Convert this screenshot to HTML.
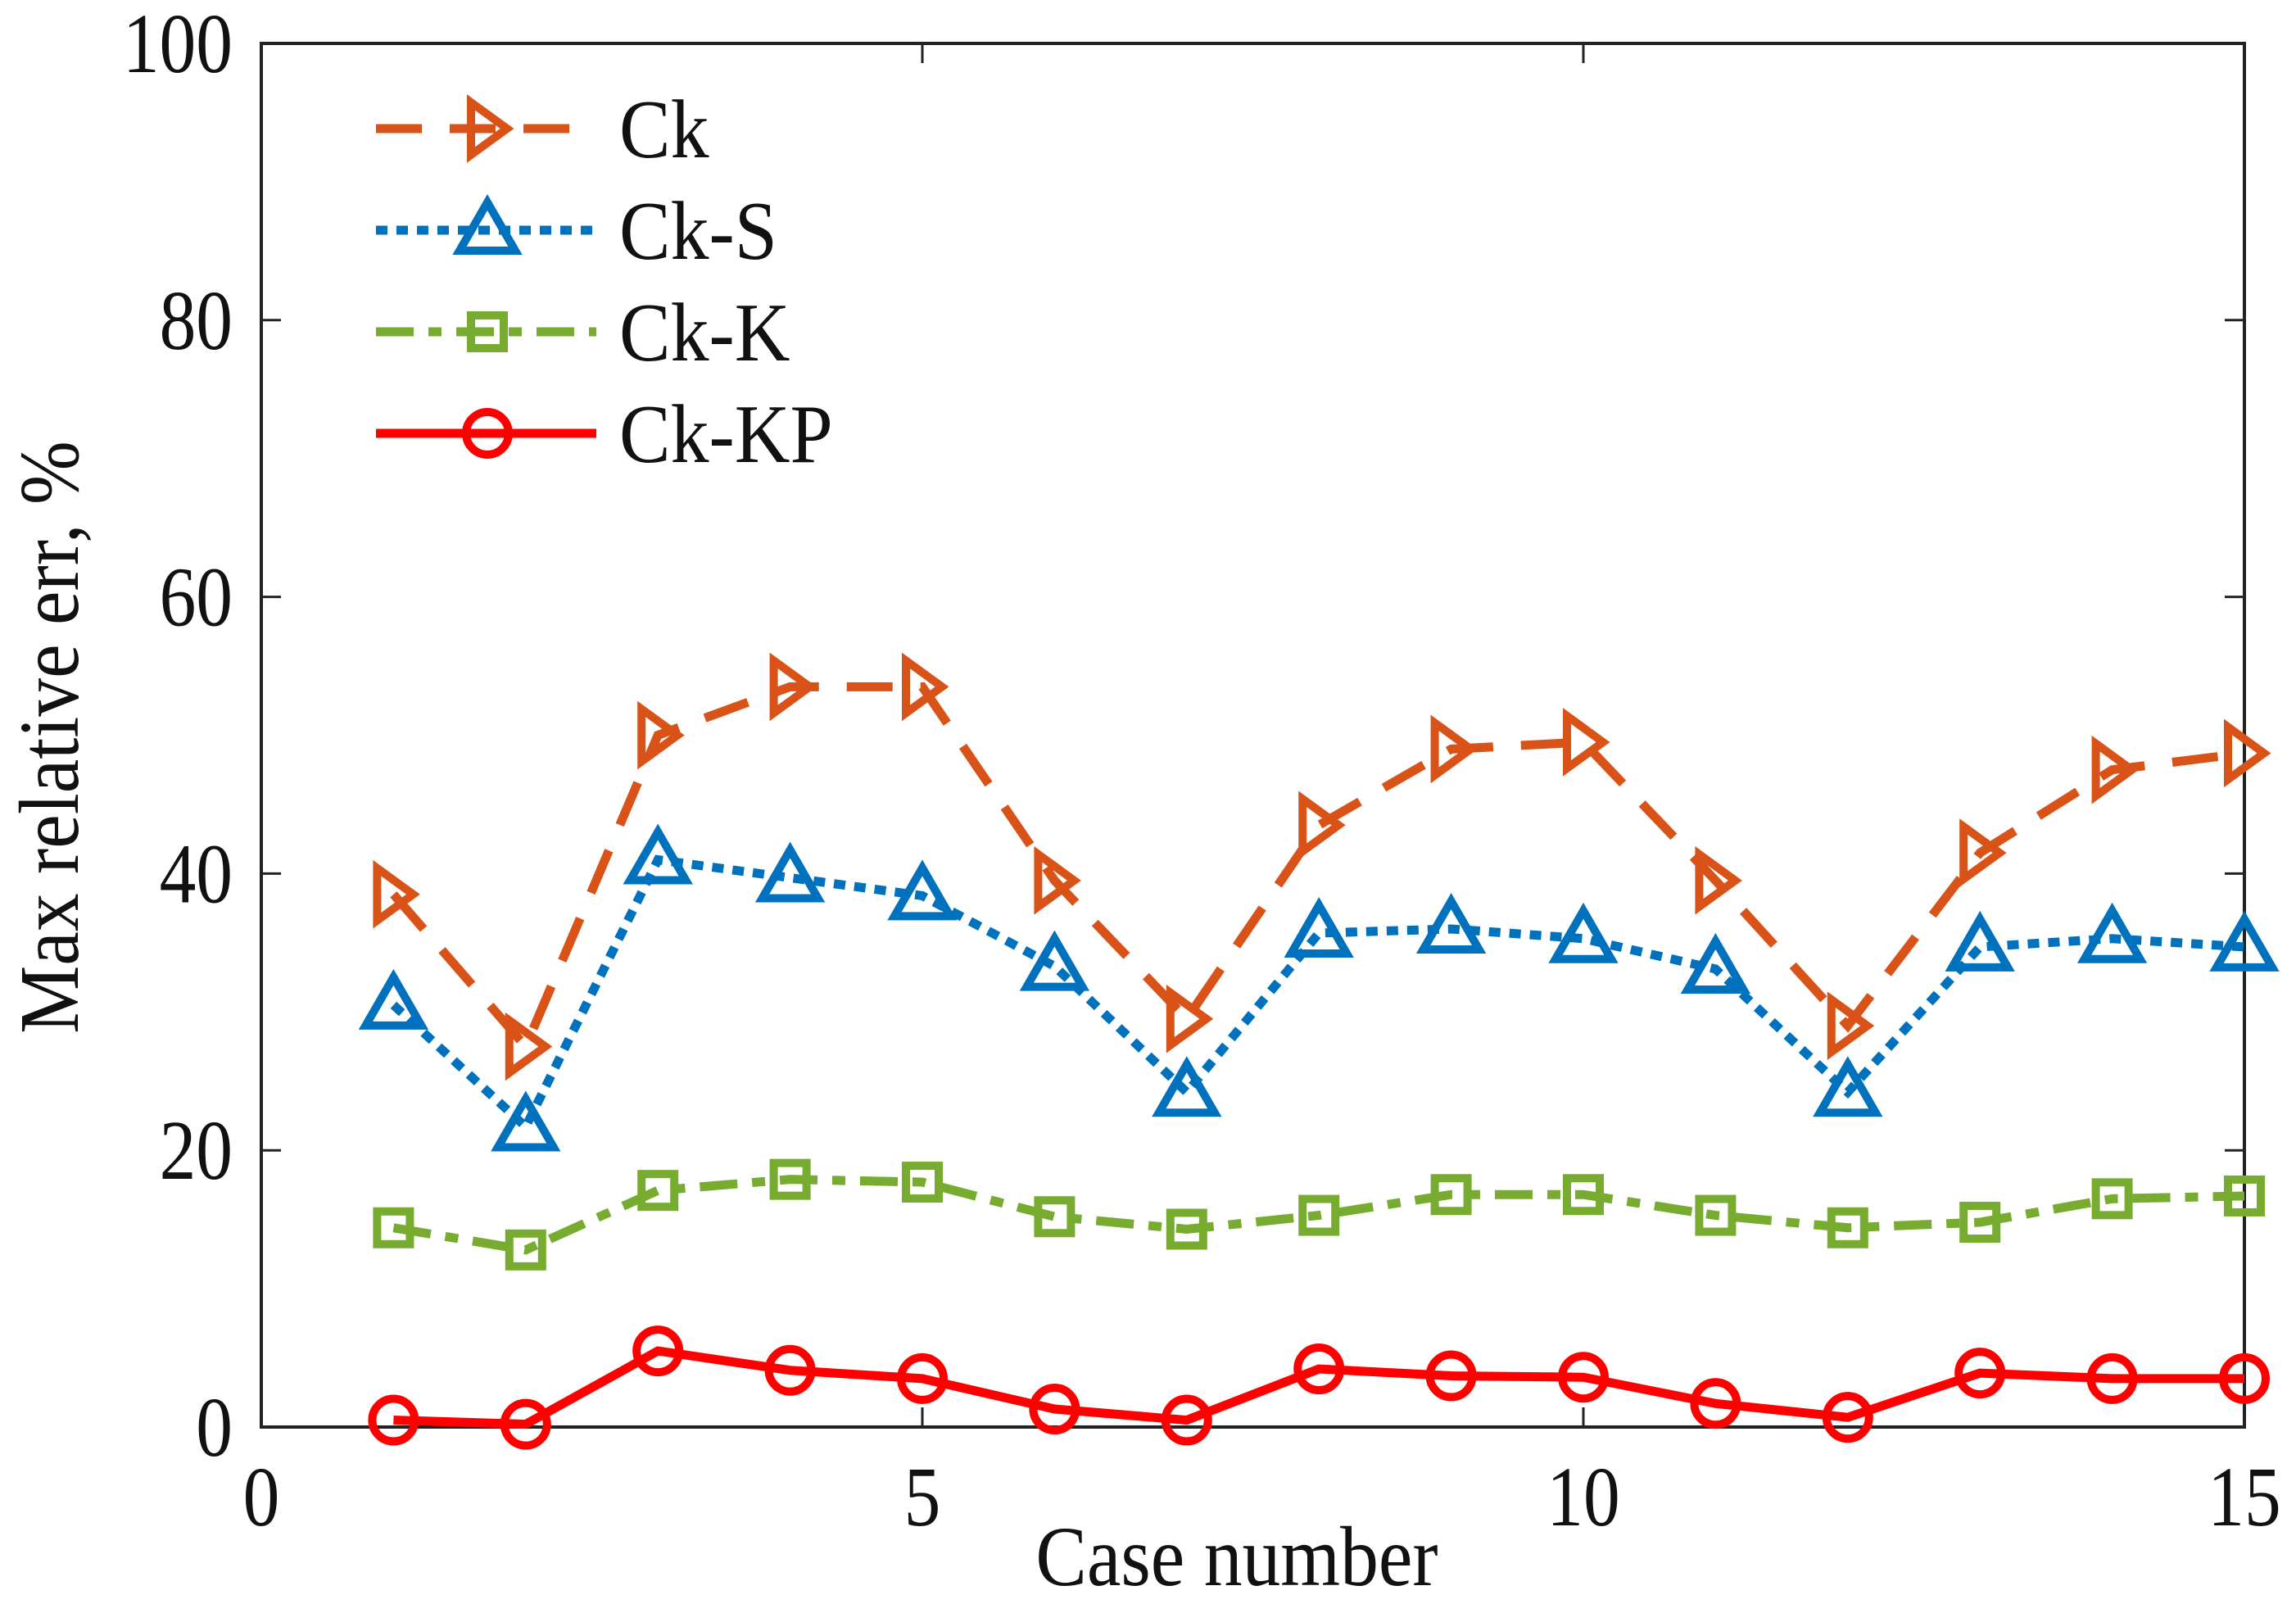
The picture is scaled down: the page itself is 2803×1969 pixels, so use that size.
<!DOCTYPE html>
<html><head><meta charset="utf-8"><style>
html,body{margin:0;padding:0;background:#fff;}
svg{display:block;}
text{font-family:"Liberation Serif","DejaVu Serif",serif;fill:#111;}
</style></head><body>
<svg id="chart" width="2803" height="1969" viewBox="0 0 2803 1969" xmlns="http://www.w3.org/2000/svg">
<g id="grid"></g>
<g id="series"></g>
<g id="legend"></g>
</svg>
<script>
const cases = [1,2,3,4,5,6,7,8,9,10,11,12,13,14,15];
const ck   = [38.5,27.5,50,53.5,53.5,39.5,29.5,43.5,49,49.5,39.5,29,41.5,47.5,48.7];
const ckS  = [30.5,21.7,41,39.7,38.4,33.3,24.2,35.7,36,35.3,33.1,24.2,34.7,35.3,34.7];
const ckK  = [14.4,12.8,17.1,17.9,17.7,15.2,14.3,15.3,16.8,16.8,15.3,14.4,14.8,16.5,16.7];
const ckKP = [0.5,0.2,5.5,4.1,3.5,1.3,0.5,4.2,3.7,3.6,1.7,0.7,3.9,3.5,3.5];
const xTicks = [0,5,10,15];
const yTicks = [0,20,40,60,80,100];
const seriesNames = ["Ck","Ck-S","Ck-K","Ck-KP"];

const L=319,R=2740,T=53,B=1742;
const sx=v=>L+(v-0)/(15-0)*(R-L);
const sy=v=>B-(v-0)/(100-0)*(B-T);
const NS="http://www.w3.org/2000/svg";
function mk(tag,attrs,parent){const e=document.createElementNS(NS,tag);for(const k in attrs)e.setAttribute(k,attrs[k]);parent.appendChild(e);return e;}
const grid=document.getElementById('grid'),ser=document.getElementById('series'),leg=document.getElementById('legend');

let box=mk('rect',{x:L,y:T,width:R-L,height:B-T,fill:'none',stroke:'#222','stroke-width':4},grid);


xTicks.forEach(v=>{
  const x=sx(v);
  let t=mk('line',{x1:x,x2:x,y1:B,y2:B-24,stroke:'#222','stroke-width':3},grid);
  
  
  let t2=mk('line',{x1:x,x2:x,y1:T,y2:T+24,stroke:'#222','stroke-width':3},grid);
  
  
  let lb=mk('text',{x:0,y:0,'text-anchor':'middle','font-size':104,transform:`translate(${x},1862) scale(0.86,1)`},grid);
  lb.textContent=v;
  
  
});
yTicks.forEach(v=>{
  const y=sy(v);
  let t=mk('line',{x1:L,x2:L+24,y1:y,y2:y,stroke:'#222','stroke-width':3},grid);
  
  
  let t2=mk('line',{x1:R,x2:R-24,y1:y,y2:y,stroke:'#222','stroke-width':3},grid);
  
  
  let lb=mk('text',{x:0,y:0,'text-anchor':'end','font-size':104,transform:`translate(284,${y+35}) scale(0.86,1)`},grid);
  lb.textContent=v;
  
  
});
let xl=mk('text',{x:0,y:0,'text-anchor':'middle','font-size':104,transform:'translate(1510,1935) scale(0.9,1)'},grid);
xl.textContent='Case number';


let yl=mk('text',{x:0,y:0,'text-anchor':'middle','font-size':104,transform:'translate(95,900) rotate(-90) scale(0.9,1)'},grid);
yl.textContent='Max relative err, %';



const styles=[
 {data:ck,color:'#D95319',dash:'56 34',marker:'right'},
 {data:ckS,color:'#0072BD',dash:'14 11',marker:'up'},
 {data:ckK,color:'#77AC30',dash:'46 18 16 18',marker:'square'},
 {data:ckKP,color:'#FF0000',dash:'none',marker:'circle'}
];
function marker(type,x,y,color,parent,name){
  let e;
  if(type==='right') e=mk('polygon',{points:`${x-20},${y-32} ${x+24},${y} ${x-20},${y+32}`,fill:'none',stroke:color,'stroke-width':10},parent);
  else if(type==='up') e=mk('polygon',{points:`${x},${y-34} ${x+34},${y+25} ${x-34},${y+25}`,fill:'none',stroke:color,'stroke-width':10},parent);
  else if(type==='square') e=mk('rect',{x:x-20,y:y-20,width:40,height:40,fill:'none',stroke:color,'stroke-width':10},parent);
  else e=mk('circle',{cx:x,cy:y,r:26,fill:'none',stroke:color,'stroke-width':10},parent);
  
  
}
styles.forEach((s,i)=>{
  const g=mk('g',{},ser);
  
  
  const pts=cases.map((c,j)=>sx(c)+','+sy(s.data[j])).join(' ');
  const pl=mk('polyline',{points:pts,fill:'none',stroke:s.color,'stroke-width':11,'stroke-dasharray':s.dash},g);
  
  
  cases.forEach((c,j)=>marker(s.marker,sx(c),sy(s.data[j]),s.color,g,'data-point'));
  const ly=157+i*124;
  const ll=mk('line',{x1:459,x2:728,y1:ly,y2:ly,stroke:s.color,'stroke-width':11,'stroke-dasharray':s.dash},leg);
  
  
  marker(s.marker,595,ly,s.color,leg,'legend-marker');
  const lt=mk('text',{x:0,y:0,'font-size':102,transform:`translate(756,${ly+35}) scale(0.92,1)`},leg);
  lt.textContent=seriesNames[i];
  
  
});
</script>
</body></html>
